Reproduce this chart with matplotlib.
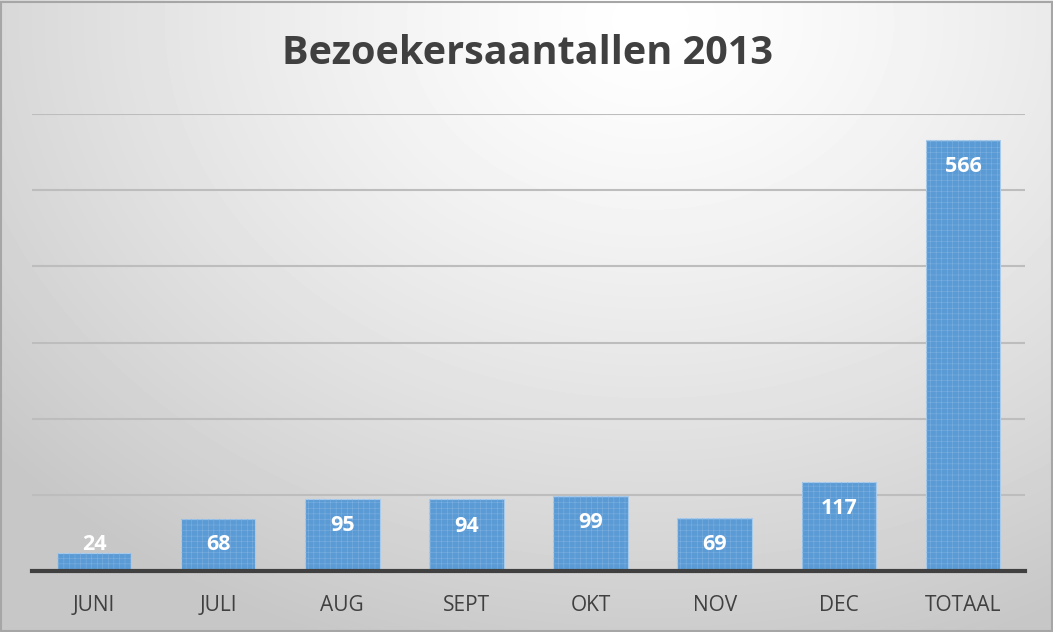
import numpy as np
import matplotlib.pyplot as plt

maanden = ['JUNI', 'JULI', 'AUG', 'SEPT', 'OKT', 'NOV', 'DEC', 'TOTAAL']
bezoekers = [24, 68, 95, 94, 99, 69, 117, 566]
titel = 'Bezoekersaantallen 2013'

plt.rcParams['font.family'] = ['Open Sans', 'DejaVu Sans']
plt.rcParams['hatch.linewidth'] = 0.3

fig = plt.figure(figsize=(10.53, 6.32), dpi=100)

# achtergrond: radiaal verloop, licht boven het midden, grijs aan de randen
bg = fig.add_axes([0, 0, 1, 1], zorder=-10)
yy, xx = np.mgrid[0:632, 0:1053]
r = np.sqrt(((xx - 650) / 900.0) ** 2 + ((yy - 20) / 700.0) ** 2)
r = np.clip(r / 0.95, 0, 1)
grijs = 1.0 - 0.22 * r ** 1.3
bg.imshow(grijs, cmap='gray', vmin=0, vmax=1, aspect='auto', interpolation='bilinear')
bg.set_axis_off()
fig.patches.append(plt.Rectangle((0.001, 0.001), 0.998, 0.996, transform=fig.transFigure,
                                 fill=False, edgecolor='#a6a6a6', linewidth=1.5))

ax = fig.add_axes([32 / 1053, 1 - 571 / 632, 993 / 1053, (571 - 114) / 632])
ax.patch.set_alpha(0)
x = np.arange(len(maanden))
ax.bar(x, bezoekers, width=0.6, color='#5b9bd5', edgecolor='#a8cbec', linewidth=0.8, zorder=3)
ax.bar(x, bezoekers, width=0.6, color='none', edgecolor='#86b5e2', hatch='+++', linewidth=0, zorder=4)

for xi, v in zip(x, bezoekers):
    ax.text(xi, max(v - 35, 35), str(v), ha='center', va='center', color='white',
            fontsize=15.5, fontweight='bold', zorder=5)

ax.set_ylim(0, 600)
ax.set_xlim(-0.5, len(maanden) - 0.5)
ax.set_yticks(np.arange(100, 700, 100))
ax.yaxis.grid(True, color='#bdbdbd', linewidth=1.5, zorder=0)
ax.tick_params(axis='y', length=0, labelleft=False)
ax.tick_params(axis='x', length=0, pad=17, labelsize=15, labelcolor='#404040')
ax.set_xticks(x)
ax.set_xticklabels(maanden)
for s in ['top', 'right', 'left']:
    ax.spines[s].set_visible(False)
ax.spines['bottom'].set_color('#404040')
ax.spines['bottom'].set_linewidth(3)
ax.spines['bottom'].set_zorder(6)

fig.text(528 / 1053, 1 - 54 / 632, titel, ha='center', va='center', fontsize=28.5,
         fontweight='bold', color='#404040')

fig.savefig('out.png', dpi=100)
